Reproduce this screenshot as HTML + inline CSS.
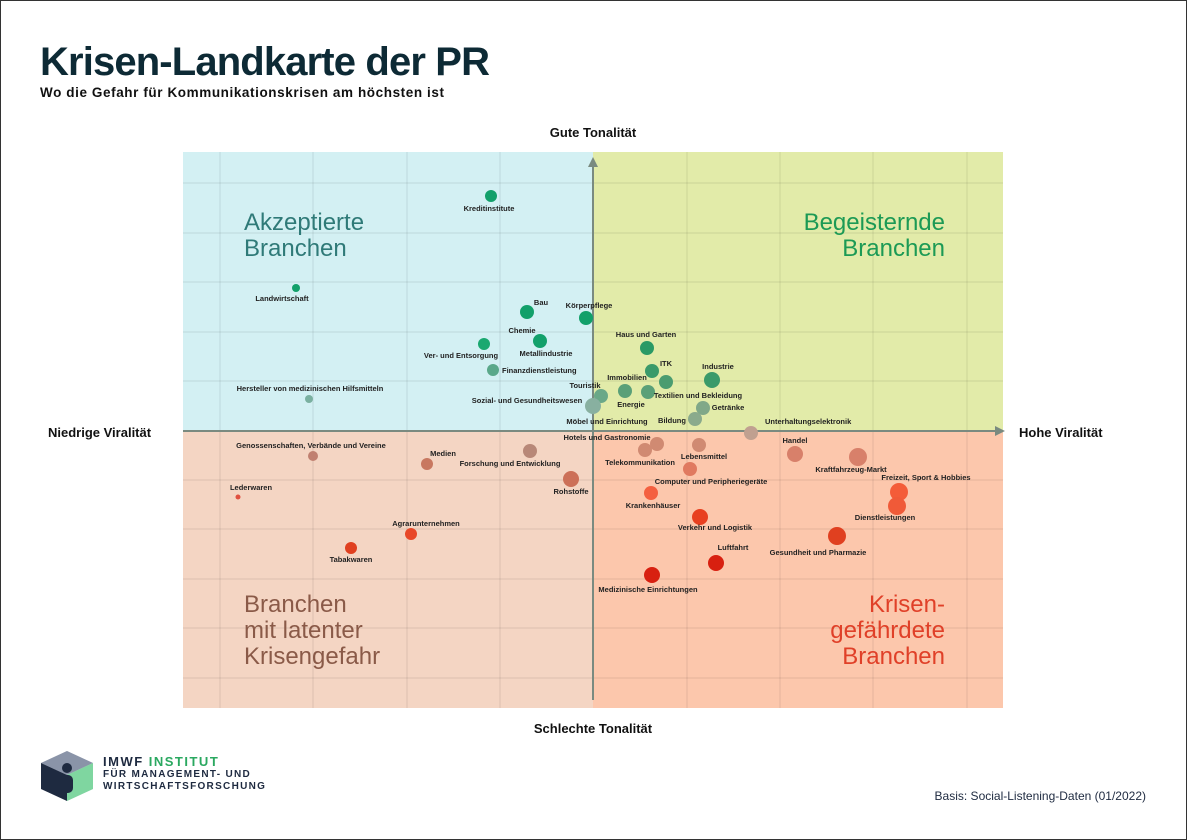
<!DOCTYPE html>
<html><head><meta charset="utf-8"><style>
html,body{margin:0;padding:0;background:#fff}
svg{display:block;font-family:"Liberation Sans",sans-serif}
.l{font-size:7.5px;fill:#222;font-weight:bold}
.ax{font-size:13px;font-weight:bold;fill:#111}
</style></head><body>
<svg width="1187" height="840" viewBox="0 0 1187 840">
<rect x="0.5" y="0.5" width="1186" height="839" fill="#fff" stroke="#333"/>
<text x="40" y="75" font-size="40" font-weight="bold" fill="#0d2a35" textLength="450">Krisen-Landkarte der PR</text>
<text x="40" y="97" font-size="13.5" font-weight="bold" fill="#111" textLength="404">Wo die Gefahr für Kommunikationskrisen am höchsten ist</text>

<rect x="183" y="152" width="410" height="279" fill="#d3f0f3"/>
<rect x="593" y="152" width="410" height="279" fill="#e2eba9"/>
<rect x="183" y="431" width="410" height="277" fill="#f4d5c3"/>
<rect x="593" y="431" width="410" height="277" fill="#fcc7ac"/>
<g stroke="#000" stroke-opacity="0.08" stroke-width="1.2">
<line x1="220" y1="152" x2="220" y2="708"/><line x1="313" y1="152" x2="313" y2="708"/>
<line x1="407" y1="152" x2="407" y2="708"/><line x1="500" y1="152" x2="500" y2="708"/>
<line x1="687" y1="152" x2="687" y2="708"/><line x1="780" y1="152" x2="780" y2="708"/>
<line x1="873" y1="152" x2="873" y2="708"/><line x1="967" y1="152" x2="967" y2="708"/>
<line x1="183" y1="183" x2="1003" y2="183"/><line x1="183" y1="233" x2="1003" y2="233"/>
<line x1="183" y1="282" x2="1003" y2="282"/><line x1="183" y1="332" x2="1003" y2="332"/>
<line x1="183" y1="381" x2="1003" y2="381"/><line x1="183" y1="480" x2="1003" y2="480"/>
<line x1="183" y1="529" x2="1003" y2="529"/><line x1="183" y1="579" x2="1003" y2="579"/>
<line x1="183" y1="628" x2="1003" y2="628"/><line x1="183" y1="678" x2="1003" y2="678"/>
</g>
<line x1="593" y1="700" x2="593" y2="165" stroke="#7a8a80" stroke-width="2"/>
<polygon points="593,157 588,167 598,167" fill="#7a8a80"/>
<line x1="183" y1="431" x2="996" y2="431" stroke="#7a8a80" stroke-width="2"/>
<polygon points="1005,431 995,426 995,436" fill="#7a8a80"/>

<text class="ax" x="593" y="137" text-anchor="middle">Gute Tonalität</text>
<text class="ax" x="593" y="733" text-anchor="middle">Schlechte Tonalität</text>
<text class="ax" x="48" y="437">Niedrige Viralität</text>
<text class="ax" x="1019" y="437">Hohe Viralität</text>

<g font-size="24">
<text x="244" y="230" fill="#2f7a78">Akzeptierte</text><text x="244" y="256" fill="#2f7a78">Branchen</text>
<text x="945" y="230" fill="#1c9a55" text-anchor="end">Begeisternde</text><text x="945" y="256" fill="#1c9a55" text-anchor="end">Branchen</text>
<text x="244" y="612" fill="#8a5a48">Branchen</text><text x="244" y="638" fill="#8a5a48">mit latenter</text><text x="244" y="664" fill="#8a5a48">Krisengefahr</text>
<text x="945" y="612" fill="#e04028" text-anchor="end">Krisen-</text><text x="945" y="638" fill="#e04028" text-anchor="end">gefährdete</text><text x="945" y="664" fill="#e04028" text-anchor="end">Branchen</text>
</g>

<g>
<circle cx="491" cy="196" r="6" fill="#12a06a"/>
<circle cx="296" cy="288" r="4" fill="#12a06a"/>
<circle cx="527" cy="312" r="7" fill="#12a06a"/>
<circle cx="586" cy="318" r="7" fill="#12a06a"/>
<circle cx="540" cy="341" r="7" fill="#12a06a"/>
<circle cx="484" cy="344" r="6" fill="#1aa870"/>
<circle cx="493" cy="370" r="6" fill="#5aa88a"/>
<circle cx="309" cy="399" r="4" fill="#7ab0a0"/>
<circle cx="601" cy="396" r="7" fill="#6aa888"/>
<circle cx="593" cy="406" r="8" fill="#88b0a0"/>
<circle cx="647" cy="348" r="7" fill="#2a9a65"/>
<circle cx="652" cy="371" r="7" fill="#3a9a6a"/>
<circle cx="666" cy="382" r="7" fill="#4a9c70"/>
<circle cx="625" cy="391" r="7" fill="#5aa078"/>
<circle cx="648" cy="392" r="7" fill="#5aa078"/>
<circle cx="712" cy="380" r="8" fill="#3a9a6a"/>
<circle cx="703" cy="408" r="7" fill="#80a888"/>
<circle cx="695" cy="419" r="7" fill="#8aaa8c"/>
<circle cx="751" cy="433" r="7" fill="#c0a090"/>
<circle cx="657" cy="444" r="7" fill="#d08a72"/>
<circle cx="645" cy="450" r="7" fill="#d08a72"/>
<circle cx="699" cy="445" r="7" fill="#d08a72"/>
<circle cx="690" cy="469" r="7" fill="#e07a60"/>
<circle cx="795" cy="454" r="8" fill="#d8806a"/>
<circle cx="858" cy="457" r="9" fill="#d8806a"/>
<circle cx="899" cy="492" r="9" fill="#f45c38"/>
<circle cx="897" cy="506" r="9" fill="#f05a38"/>
<circle cx="651" cy="493" r="7" fill="#f46040"/>
<circle cx="700" cy="517" r="8" fill="#e84020"/>
<circle cx="837" cy="536" r="9" fill="#e04020"/>
<circle cx="716" cy="563" r="8" fill="#d82010"/>
<circle cx="652" cy="575" r="8" fill="#d82010"/>
<circle cx="313" cy="456" r="5" fill="#c08070"/>
<circle cx="427" cy="464" r="6" fill="#c87860"/>
<circle cx="530" cy="451" r="7" fill="#b88878"/>
<circle cx="571" cy="479" r="8" fill="#cc7058"/>
<circle cx="238" cy="497" r="2.5" fill="#e05040"/>
<circle cx="411" cy="534" r="6" fill="#e84828"/>
<circle cx="351" cy="548" r="6" fill="#e04020"/>
</g>
<g class="l">
<text x="489" y="211" text-anchor="middle">Kreditinstitute</text>
<text x="282" y="301" text-anchor="middle">Landwirtschaft</text>
<text x="541" y="305" text-anchor="middle">Bau</text>
<text x="589" y="308" text-anchor="middle">Körperpflege</text>
<text x="522" y="333" text-anchor="middle">Chemie</text>
<text x="546" y="356" text-anchor="middle">Metallindustrie</text>
<text x="461" y="358" text-anchor="middle">Ver- und Entsorgung</text>
<text x="502" y="373">Finanzdienstleistung</text>
<text x="310" y="391" text-anchor="middle">Hersteller von medizinischen Hilfsmitteln</text>
<text x="585" y="388" text-anchor="middle">Touristik</text>
<text x="527" y="403" text-anchor="middle">Sozial- und Gesundheitswesen</text>
<text x="607" y="424" text-anchor="middle">Möbel und Einrichtung</text>
<text x="646" y="337" text-anchor="middle">Haus und Garten</text>
<text x="666" y="366" text-anchor="middle">ITK</text>
<text x="627" y="380" text-anchor="middle">Immobilien</text>
<text x="631" y="407" text-anchor="middle">Energie</text>
<text x="698" y="398" text-anchor="middle">Textilien und Bekleidung</text>
<text x="718" y="369" text-anchor="middle">Industrie</text>
<text x="728" y="410" text-anchor="middle">Getränke</text>
<text x="672" y="423" text-anchor="middle">Bildung</text>
<text x="765" y="424">Unterhaltungselektronik</text>
<text x="607" y="440" text-anchor="middle">Hotels und Gastronomie</text>
<text x="640" y="465" text-anchor="middle">Telekommunikation</text>
<text x="704" y="459" text-anchor="middle">Lebensmittel</text>
<text x="711" y="484" text-anchor="middle">Computer und Peripheriegeräte</text>
<text x="795" y="443" text-anchor="middle">Handel</text>
<text x="851" y="472" text-anchor="middle">Kraftfahrzeug-Markt</text>
<text x="926" y="480" text-anchor="middle">Freizeit, Sport &amp; Hobbies</text>
<text x="885" y="520" text-anchor="middle">Dienstleistungen</text>
<text x="653" y="508" text-anchor="middle">Krankenhäuser</text>
<text x="715" y="530" text-anchor="middle">Verkehr und Logistik</text>
<text x="818" y="555" text-anchor="middle">Gesundheit und Pharmazie</text>
<text x="733" y="550" text-anchor="middle">Luftfahrt</text>
<text x="648" y="592" text-anchor="middle">Medizinische Einrichtungen</text>
<text x="311" y="448" text-anchor="middle">Genossenschaften, Verbände und Vereine</text>
<text x="443" y="456" text-anchor="middle">Medien</text>
<text x="510" y="466" text-anchor="middle">Forschung und Entwicklung</text>
<text x="571" y="494" text-anchor="middle">Rohstoffe</text>
<text x="251" y="490" text-anchor="middle">Lederwaren</text>
<text x="426" y="526" text-anchor="middle">Agrarunternehmen</text>
<text x="351" y="562" text-anchor="middle">Tabakwaren</text>
</g>

<g>
<polygon points="67,751 93,763 93,789 67,801 41,789 41,763" fill="#d8dce4"/>
<polygon points="67,751 93,763 67,775 41,763" fill="#8a94a8"/>
<polygon points="93,763 93,789 67,801 67,775" fill="#7fd6a0"/>
<polygon points="41,763 67,775 67,801 41,789" fill="#1e2a40"/>
<circle cx="67" cy="768" r="5" fill="#1e2a40"/>
<rect x="61" y="775" width="12" height="18" rx="5" fill="#1e2a40"/>
<text x="103" y="766" font-size="13" font-weight="bold" fill="#1e2a40" letter-spacing="1.5">IMWF <tspan fill="#2aa860">INSTITUT</tspan></text>
<text x="103" y="777" font-size="10" font-weight="bold" fill="#1e2a40" letter-spacing="1.3">FÜR MANAGEMENT- UND</text>
<text x="103" y="789" font-size="10" font-weight="bold" fill="#1e2a40" letter-spacing="1.3">WIRTSCHAFTSFORSCHUNG</text>
</g>
<text x="1146" y="800" font-size="12" fill="#1e2a40" text-anchor="end">Basis: Social-Listening-Daten (01/2022)</text>
</svg>
</body></html>
